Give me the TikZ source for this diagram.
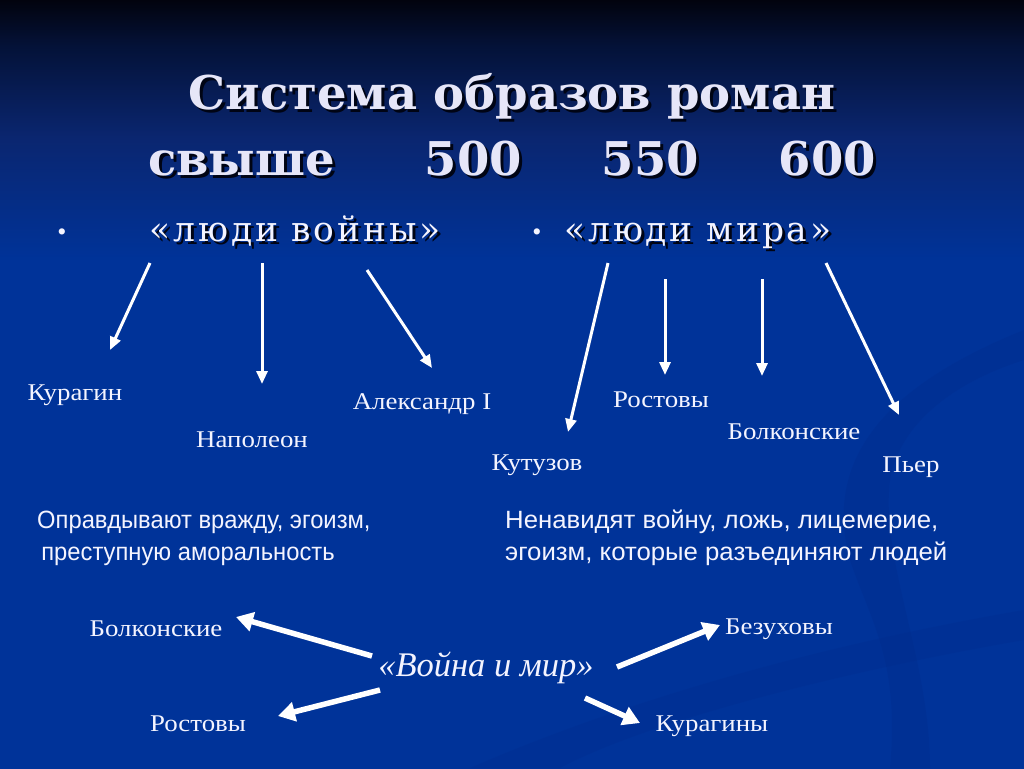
\documentclass[tikz,border=0pt]{standalone}
\usepackage{fontspec}
\setmainfont{Liberation Serif}
\newfontfamily\titlefont{DejaVu Serif}
\newfontfamily\headfont{DejaVu Serif}[LetterSpace=8]
\newfontfamily\personfont{Liberation Serif}[FakeStretch=1.12]
\newfontfamily\leftfont{Liberation Sans}[FakeStretch=0.95]
\newfontfamily\rightfont{Liberation Sans}[FakeStretch=1.03]
\usetikzlibrary{arrows.meta}
\definecolor{ink}{HTML}{F4F4FF}
\definecolor{titleink}{HTML}{E6E6F8}
\definecolor{shadowink}{HTML}{000414}
\definecolor{bgtop}{HTML}{02030E}
\definecolor{bgdark}{HTML}{041238}
\definecolor{bgmid}{HTML}{0A2670}
\definecolor{bgblue}{HTML}{003399}
\definecolor{swoosh}{HTML}{002C8C}
\pgfdeclareverticalshading{slidebg}{100bp}{color(0bp)=(bgblue); color(25bp)=(bgblue);
  color(58bp)=(bgblue); color(66bp)=(bgmid); color(72bp)=(bgdark); color(75bp)=(bgtop); color(100bp)=(bgtop)}
\newcommand{\shd}[1]{\rlap{\kern3pt\raisebox{-3pt}{\color{shadowink}#1}}#1}

\tikzset{
  titletext/.style={font=\titlefont\bfseries\fontsize{46.5}{46.5}\selectfont, text=titleink, inner sep=0pt, anchor=base},
  headtext/.style={font=\headfont\fontsize{34.5}{34.5}\selectfont, text=ink, inner sep=0pt, anchor=base},
  person/.style={font=\personfont\fontsize{24}{24}\selectfont, text=ink, inner sep=0pt, anchor=base},
  bodytext/.style={text=ink, inner sep=0pt, anchor=base west, align=left},
  thinarrow/.style={draw=white, line width=3pt, -{Triangle[length=13pt,width=11pt]}},
  thickarrow/.style={draw=white, line width=5.5pt, -{Triangle[length=17pt,width=19pt]}},
}

\begin{document}
\begin{tikzpicture}[x=1pt,y=-1pt]
  % background
  \shade[shading=slidebg] (0,0) rectangle (1024,768);
  \useasboundingbox (0,0) rectangle (1024,768);
  \fill[swoosh, opacity=0.35] (1024,330) .. controls (900,380) and (820,450) .. (850,560)
    .. controls (870,620) and (900,660) .. (890,768) -- (930,768)
    .. controls (930,660) and (880,560) .. (890,480) .. controls (900,420) and (960,380) .. (1024,360) -- cycle;
  \fill[swoosh, opacity=0.3] (470,768) .. controls (650,690) and (850,640) .. (1024,610)
    -- (1024,640) .. controls (850,670) and (650,720) .. (560,768) -- cycle;

  \path
  (512,109) node[titletext] (t1) {\shd{Система образов роман}}
  (512,175) node[titletext] (t2) {\shd{свыше\hspace{90pt}500\hspace{80pt}550\hspace{80pt}600}}
  (62,240) node[headtext, font=\fontsize{26}{26}\selectfont] (dot1) {•}
  (295,241) node[headtext] (war) {\shd{«люди войны»}}
  (537,240) node[headtext, font=\fontsize{26}{26}\selectfont] (dot2) {•}
  (698,241) node[headtext] (peace) {\shd{«люди мира»}}
  (75,400) node[person] (kuragin) {Курагин}
  (252,447) node[person] (napoleon) {Наполеон}
  (422,409) node[person] (alex) {Александр I}
  (537,470) node[person] (kutuzov) {Кутузов}
  (661,407) node[person] (rostov) {Ростовы}
  (794,439) node[person] (bolk) {Болконские}
  (911,472) node[person] (pierre) {Пьер}
  (37,560) node[bodytext, font=\leftfont\fontsize{25}{32}\selectfont] (justify) {Оправдывают вражду, эгоизм,\\ \,преступную аморальность}
  (505,560) node[bodytext, font=\rightfont\fontsize{25}{32}\selectfont] (hate) {Ненавидят войну, ложь, лицемерие,\\эгоизм, которые разъединяют людей}
  (486,676) node[person, font=\rmfamily\itshape\fontsize{34.5}{34.5}\selectfont] (novel) {«Война и мир»}
  (156,636) node[person] (bolk2) {Болконские}
  (779,634) node[person] (bez) {Безуховы}
  (198,731) node[person] (rostov2) {Ростовы}
  (712,731) node[person] (kur2) {Курагины}
  ;

  % arrow ends
  \coordinate (a1) at (150,263);  \coordinate (b1) at (110,350);
  \coordinate (a2) at (262,263);  \coordinate (b2) at (262,384);
  \coordinate (a3) at (367,270);  \coordinate (b3) at (432,368);
  \coordinate (a4) at (608,263);  \coordinate (b4) at (568,432);
  \coordinate (a5) at (665,279);  \coordinate (b5) at (665,375);
  \coordinate (a6) at (762,279);  \coordinate (b6) at (762,376);
  \coordinate (a7) at (826,263);  \coordinate (b7) at (899,415);
  \coordinate (c1) at (372,656);  \coordinate (d1) at (236,617);
  \coordinate (c2) at (617,667);  \coordinate (d2) at (720,625);
  \coordinate (c3) at (380,690);  \coordinate (d3) at (278,716);
  \coordinate (c4) at (585,698);  \coordinate (d4) at (640,723);

  \draw[thinarrow] (a1) -- (b1);
  \draw[thinarrow] (a2) -- (b2);
  \draw[thinarrow] (a3) -- (b3);
  \draw[thinarrow] (a4) -- (b4);
  \draw[thinarrow] (a5) -- (b5);
  \draw[thinarrow] (a6) -- (b6);
  \draw[thinarrow] (a7) -- (b7);

  \draw[thickarrow] (c1) -- (d1);
  \draw[thickarrow] (c2) -- (d2);
  \draw[thickarrow] (c3) -- (d3);
  \draw[thickarrow] (c4) -- (d4);
\end{tikzpicture}
\end{document}
